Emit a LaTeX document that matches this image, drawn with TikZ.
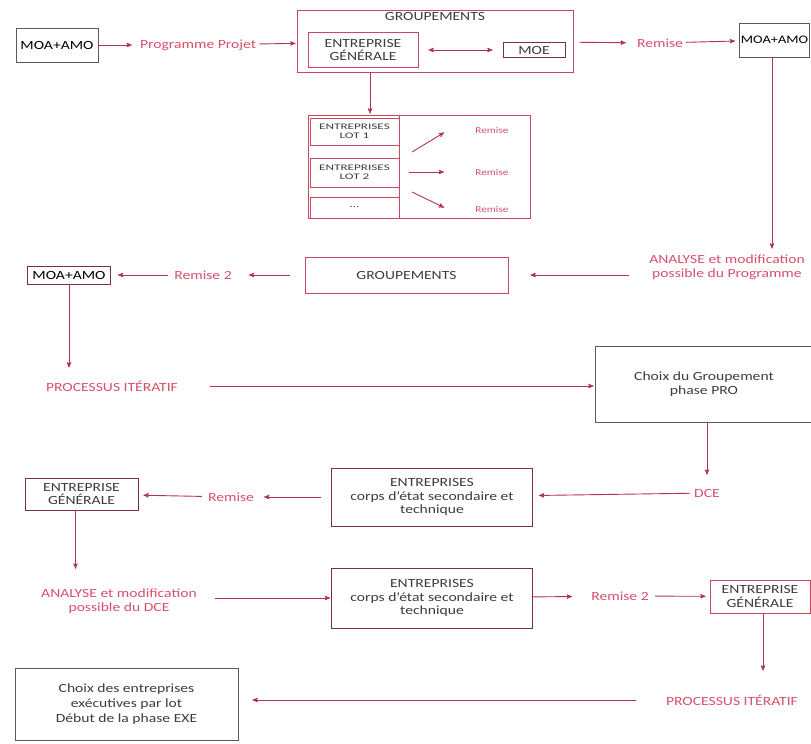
\documentclass[tikz,border=0pt]{standalone}
\usepackage{fontspec}
\setsansfont{Carlito}[FakeStretch=1.25]
\newfontfamily\lotfont{Carlito}[FakeStretch=1.55]
\usetikzlibrary{positioning, arrows}
\definecolor{lblred}{HTML}{D6506B}
\definecolor{linered}{HTML}{B23350}
\definecolor{boxred}{HTML}{C9475F}
\definecolor{boxdark}{HTML}{7A3045}
\definecolor{boxgray}{HTML}{5A5A5A}
\definecolor{txtgray}{HTML}{3C3C3C}

\begin{document}
\begin{tikzpicture}[x=1pt,y=-1pt,>=stealth',shorten >=1pt,
    font=\sffamily\fontsize{12.5}{13.5}\selectfont,
    box/.style={draw=boxred,line width=0.9pt,text=txtgray,align=center,inner sep=1pt},
    gbox/.style={box,draw=boxgray},
    dbox/.style={box,draw=boxdark},
    lbl/.style={text=lblred,align=center,inner sep=3pt},
    small/.style={font=\sffamily\fontsize{9}{10}\selectfont},
    every edge/.style={draw=linered,line width=0.9pt}]
  \useasboundingbox (0,0) rectangle (811,744);

  \node[gbox,text=black,minimum width=82pt,minimum height=34pt] (moaA) at (57,45) {MOA+AMO};
  \node[lbl] (prog) at (198,45) {Programme Projet};
  \node[box,minimum width=276pt,minimum height=62pt] (grpA) at (435,41) {};
  \node[text=txtgray,inner sep=1pt] (grpAt) [below=2pt of grpA.north] {GROUPEMENTS};
  \node[box,minimum width=110pt,minimum height=35pt] (egA) at (363,50) {ENTREPRISE\\GÉNÉRALE};
  \node[dbox,minimum width=62pt,minimum height=15pt,inner sep=0pt] (moe) at (534,50) {MOE};
  \node[lbl] (remA) at (660,43) {Remise};
  \node[gbox,text=black,font=\sffamily\fontsize{11.5}{12.5}\selectfont,minimum width=70pt,minimum height=34pt,inner sep=0pt] (moaB) at (774.5,40) {MOA+AMO};
  \coordinate (dropA) at (370,72);

  \node[box,minimum width=222pt,minimum height=103pt] (lots) at (419,166.5) {};
  \node[box,font=\lotfont\fontsize{8.5}{9.5}\selectfont,minimum width=89pt,minimum height=27pt] (lotA) at (354.5,131.5) {ENTREPRISES\\LOT 1};
  \node[box,font=\lotfont\fontsize{8.5}{9.5}\selectfont,minimum width=89pt,minimum height=29pt] (lotB) at (354.5,172.5) {ENTREPRISES\\LOT 2};
  \node[box,font=\lotfont\fontsize{8.5}{9.5}\selectfont,minimum width=89pt,minimum height=21pt] (lotC) at (354.5,207.5) {...};
  \draw[boxred,line width=0.9pt] (lotA.east |- lots.north) -- (lotA.east |- lots.south);
  \node[lbl,small] (remL1) at (492,130) {Remise};
  \node[lbl,small] (remL2) at (492,172) {Remise};
  \node[lbl,small] (remL3) at (492,209) {Remise};
  \coordinate (lotS1) at (412,152);
  \coordinate (lotE1) at (445,132);
  \coordinate (lotS2) at (409,172);
  \coordinate (lotE2) at (445,172);
  \coordinate (lotS3) at (412,192);
  \coordinate (lotE3) at (445,208);

  \node[dbox,text=black,minimum width=83pt,minimum height=18pt,inner sep=0pt] (moaC) at (69,275) {MOA+AMO};
  \node[lbl] (remB) at (203,275) {Remise 2};
  \node[box,minimum width=203pt,minimum height=36pt] (grpB) at (406.5,275) {GROUPEMENTS};
  \node[lbl] (anaA) at (727,267) {ANALYSE et modification\\possible du Programme};

  \node[lbl] (procA) at (112,386) {PROCESSUS ITÉRATIF};
  \node[gbox,minimum width=218pt,minimum height=76pt] (choixA) at (704,384) {Choix du Groupement\\phase PRO};

  \node[lbl] (dce) at (707,493) {DCE};
  \node[dbox,minimum width=201pt,minimum height=58pt] (entA) at (432,497) {ENTREPRISES\\corps d'état secondaire et\\technique};
  \node[lbl] (remC) at (231,497) {Remise};
  \node[dbox,minimum width=113pt,minimum height=32pt] (egB) at (81.5,494) {ENTREPRISE\\GÉNÉRALE};

  \node[lbl] (anaB) at (119,601) {ANALYSE et modification\\possible du DCE};
  \node[dbox,minimum width=201pt,minimum height=60pt] (entB) at (432,598) {ENTREPRISES\\corps d'état secondaire et\\technique};
  \node[lbl] (remD) at (620,596) {Remise 2};
  \node[box,minimum width=100pt,minimum height=33pt] (egC) at (760,596.5) {ENTREPRISE\\GÉNÉRALE};

  \node[lbl] (procB) at (732,700) {PROCESSUS ITÉRATIF};
  \node[gbox,font=\sffamily\fontsize{12.5}{15}\selectfont,minimum width=223pt,minimum height=72pt] (choixB) at (126.5,704) {Choix des entreprises\\exécutives par lot\\Début de la phase EXE};

  \path[->]
    (moaA) edge[shorten >=5pt] (prog)
    (prog) edge (grpA)
    (egA) edge[<->,shorten <=10pt,shorten >=10pt] (moe)
    (grpA) edge[shorten <=6pt,shorten >=8pt] (remA)
    (remA) edge[shorten >=4pt] (moaB)
    (dropA) edge (dropA |- lots.north)
    (lotS1) edge (lotE1)
    (lotS2) edge (lotE2)
    (lotS3) edge (lotE3)
    ([xshift=-2.5pt]moaB.south) edge[shorten >=3pt] ([xshift=-2.5pt]moaB.south |- anaA.north)
    (anaA.west |- grpB) edge[shorten <=17pt,shorten >=22pt] (grpB)
    (grpB) edge[shorten <=15pt,shorten >=14pt] (remB)
    (remB) edge[shorten <=3pt,shorten >=7pt] (moaC)
    (moaC) edge[shorten >=10pt] (moaC |- procA.north)
    (procA) edge[shorten <=29pt] (procA -| choixA.west)
    (dce |- choixA.south) edge[shorten >=11pt] (dce)
    (dce) edge[shorten <=1pt,shorten >=6pt] (entA)
    (entA) edge[shorten <=10pt,shorten >=7pt] (remC)
    (remC) edge[shorten <=3pt,shorten >=5pt] (egB)
    ([xshift=-6pt]egB.south) edge[shorten >=17pt] ([xshift=-6pt]egB.south |- anaB.north)
    (anaB.east |- entB) edge[shorten <=15pt] (entB)
    (entB) edge[shorten >=16pt] (remD)
    (remD) edge[shorten <=3pt,shorten >=4pt] (egC)
    ([xshift=3pt]egC.south) edge[shorten >=21pt] ([xshift=3pt]egC.south |- procB.north)
    (procB) edge[shorten <=27pt,shorten >=14pt] (procB -| choixB.east);
\end{tikzpicture}
\end{document}
